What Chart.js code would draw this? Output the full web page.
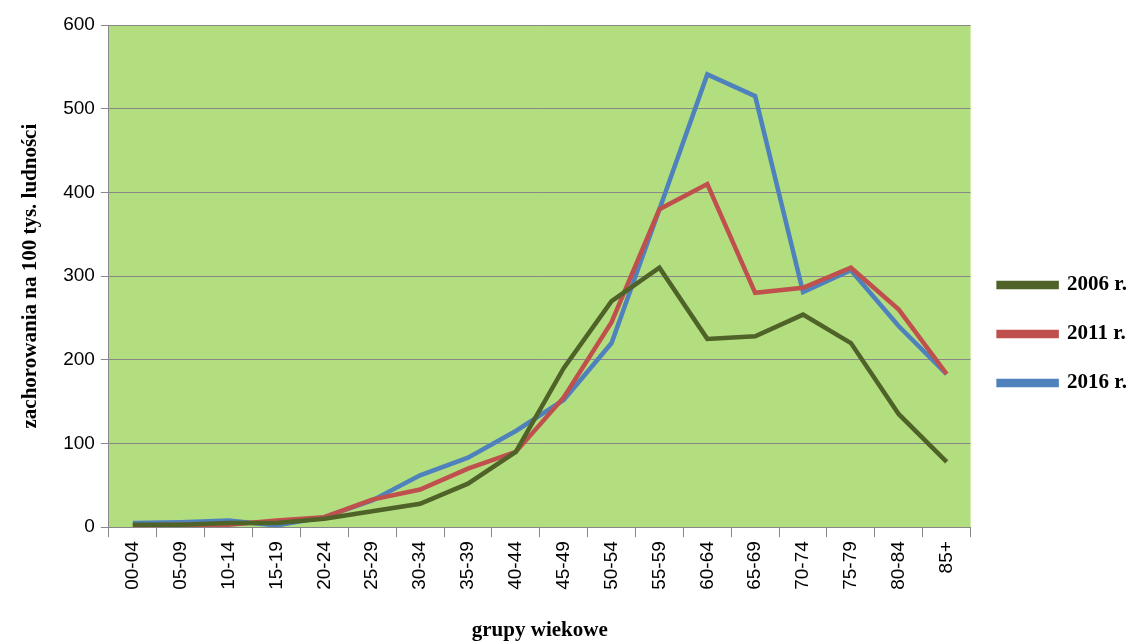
<!DOCTYPE html>
<html><head><meta charset="utf-8">
<script src="https://cdn.jsdelivr.net/npm/chart.js@4/dist/chart.umd.min.js"></script>
<style>html,body{margin:0;padding:0;background:#fff}#w{width:1137px;height:643px}</style>
</head><body><div id="w"><canvas id="c"></canvas></div>
<script>
const categories=["00-04","05-09","10-14","15-19","20-24","25-29","30-34","35-39","40-44","45-49","50-54","55-59","60-64","65-69","70-74","75-79","80-84","85+"];
const s2006=[3,3,5,5,10,19,28,52,90,190,270,310,225,228,254,220,135,78];
const s2011=[2,3,3,8,12,33,45,70,90,155,245,380,410,280,286,310,260,183];
const s2016=[5,6,8,2,12,32,62,83,115,152,220,380,541,515,281,307,240,183];
const bg={id:'bg',beforeDraw(c){const a=c.chartArea,x=c.ctx;x.save();x.fillStyle='#b3de7f';x.fillRect(a.left,a.top,a.right-a.left,a.bottom-a.top);x.restore();}};
const ds=(l,d,col)=>({label:l,data:d,borderColor:col,backgroundColor:col,borderWidth:4.5,pointRadius:0,tension:0,fill:false});
new Chart(document.getElementById('c'),{type:'line',plugins:[bg],
data:{labels:categories,datasets:[ds('2006 r.',s2006,'#4f6228'),ds('2011 r.',s2011,'#c0504d'),ds('2016 r.',s2016,'#4f81bd')]},
options:{responsive:true,maintainAspectRatio:false,animation:false,layout:{padding:{top:25,right:0,left:14,bottom:0}},
plugins:{legend:{position:'right',labels:{boxWidth:58,boxHeight:4,padding:28,color:'#000',font:{family:'Liberation Serif',size:21,weight:'bold'}}},tooltip:{enabled:false}},
scales:{x:{offset:true,grid:{display:true,offset:true,drawOnChartArea:false,color:'#888',tickLength:10},border:{color:'#888'},ticks:{color:'#000',maxRotation:90,minRotation:90,padding:4,font:{family:'Liberation Sans',size:19}},
title:{display:true,text:'grupy wiekowe',color:'#000',font:{family:'Liberation Serif',size:21,weight:'bold'},padding:{top:24,bottom:0}}},
y:{min:0,max:600,ticks:{stepSize:100,color:'#000',padding:6,font:{family:'Liberation Sans',size:19}},grid:{color:'#888',tickLength:8},border:{color:'#888'},
title:{display:true,text:'zachorowania na 100 tys. ludności',color:'#000',font:{family:'Liberation Serif',size:21,weight:'bold'},padding:{bottom:14}}}}}});
</script></body></html>
